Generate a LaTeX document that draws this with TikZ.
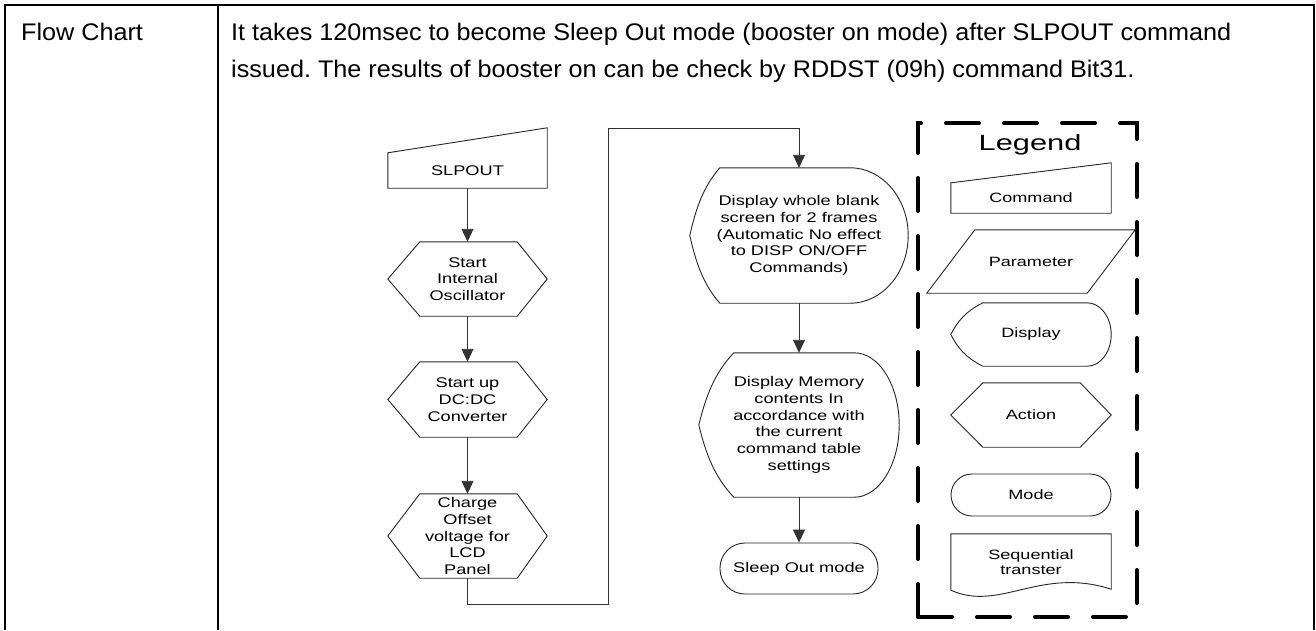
\documentclass[tikz,border=0pt]{standalone}
\usepackage{fontspec}
\setmainfont{Liberation Sans}
\newfontfamily\headfont[FakeStretch=1.05]{Liberation Sans}
\newfontfamily\flowfont[FakeStretch=1.3]{Liberation Sans}
\newfontfamily\legfont[FakeStretch=1.34]{Liberation Sans}
\newfontfamily\legtitlefont[FakeStretch=1.4]{Liberation Sans}
\usetikzlibrary{arrows.meta}
\frenchspacing

% outline macros drawn around named (invisible) nodes
\newcommand\drawhexa[3]{\draw[outl] ([xshift=#2pt]#1.north west) -- ([xshift=-#3pt]#1.north east) -- (#1.east) -- ([xshift=-#3pt]#1.south east) -- ([xshift=#2pt]#1.south west) -- (#1.west) -- cycle;}
\newcommand\drawcmdshape[2]{\draw[outl] (#1.south west) -- (#1.north west) -- ([yshift=#2pt]#1.north east) -- (#1.south east) -- cycle;}
\newcommand\drawparam[2]{\draw[outl] ([xshift=#2pt]#1.north west) -- ([xshift=#2pt]#1.north east) -- ([xshift=-#2pt]#1.south east) -- ([xshift=-#2pt]#1.south west) -- cycle;}
% #1 node, #2 left inset, #3 right inset, #4 half height
\newcommand\drawdisp[4]{\draw[outl] ([xshift=#2pt]#1.north west) -- ([xshift=-#3pt]#1.north east)
  .. controls ([xshift={-0.448*#3pt}]#1.north east) and ([yshift={0.552*#4pt}]#1.east) .. (#1.east)
  .. controls ([yshift={-0.552*#4pt}]#1.east) and ([xshift={-0.448*#3pt}]#1.south east) .. ([xshift=-#3pt]#1.south east)
  -- ([xshift=#2pt]#1.south west)
  .. controls ([xshift={0.45*#2pt},yshift={0.28*#4pt}]#1.south west) and ([xshift={0.2*#2pt},yshift={-0.4*#4pt}]#1.west) .. (#1.west)
  .. controls ([xshift={0.2*#2pt},yshift={0.4*#4pt}]#1.west) and ([xshift={0.45*#2pt},yshift={-0.28*#4pt}]#1.north west) .. cycle;}
\newcommand\drawdoc[1]{\draw[outl] (#1.south west) -- (#1.north west) -- (#1.north east) -- ([yshift=1pt]#1.south east) .. controls ([xshift=-71pt,yshift=24pt]#1.south east) and ([xshift=49pt,yshift=-22pt]#1.south west) .. (#1.south west);}

\begin{document}
\begin{tikzpicture}[x=1pt,y=-1pt,
  tbl/.style={line width=2pt, draw=black},
  hdtext/.style={anchor=base west, inner sep=0pt, font=\headfont\fontsize{24}{29}\selectfont},
  fbox/.style={inner sep=0pt, align=center, font=\flowfont\fontsize{14}{16.7}\selectfont},
  lbox/.style={inner sep=0pt, align=center, minimum width=160pt, font=\legfont\fontsize{13.5}{15.5}\selectfont},
  outl/.style={draw=black!85, line width=0.9pt},
  arr/.style={draw=black!80, line width=0.9pt, -{Triangle[length=13pt,width=12pt]}},
  legendline/.style={draw=black, line width=4pt, dash pattern=on 33pt off 25pt, line cap=round}
]
\useasboundingbox (0,0) rectangle (1316,630);

% table frame
\draw[tbl] (5,630) -- (5,5) -- (1314,5) -- (1314,630);
\draw[tbl] (218,5) -- (218,630);

% header texts
\node[hdtext] (lab) at (21,40) {Flow Chart};
\node[hdtext] (hdA) at (231,40) {It takes 120msec to become Sleep Out mode (booster on mode) after SLPOUT command};
\node[hdtext] (hdB) at (231,77) {issued. The results of booster on can be check by RDDST (09h) command Bit31.};

% left column of flowchart
\node[fbox, minimum width=159pt, minimum height=35pt] (slp) at (467.5,170.5) {SLPOUT};
\drawcmdshape{slp}{25}
\node[fbox, minimum width=159pt, minimum height=74pt] (hex1) at (467.5,279) {Start\\Internal\\Oscillator};
\drawhexa{hex1}{32}{30}
\node[fbox, minimum width=159pt, minimum height=75pt] (hex2) at (467.5,399.5) {Start up\\DC:DC\\Converter};
\drawhexa{hex2}{32}{30}
\node[fbox, minimum width=159pt, minimum height=84pt] (hex3) at (467.5,536) {Charge\\Offset\\voltage for\\LCD\\Panel};
\drawhexa{hex3}{32}{30}

% right column
\node[fbox, minimum width=218pt, minimum height=135pt] (disp1) at (799,235.5) {Display whole blank\\screen for 2 frames\\(Automatic No effect\\to DISP ON/OFF\\Commands)};
\drawdisp{disp1}{30}{58}{67.5}
\node[fbox, minimum width=200pt, minimum height=144pt] (disp2) at (799,425) {Display Memory\\contents In\\accordance with\\the current\\command table\\settings};
\drawdisp{disp2}{35}{45}{72}
\node[fbox, outl, rounded corners=25pt, minimum width=158pt, minimum height=51pt] (sleep) at (799,568.5) {Sleep Out mode};

% connectors
\coordinate (b1) at (608,604);
\coordinate (b2) at (608,128);
\draw[arr] (slp.south) -- (hex1.north);
\draw[arr] (hex1.south) -- (hex2.north);
\draw[arr] (hex2.south) -- (hex3.north);
\draw[arr] (hex3.south) |- (b1) -- (b2) -| (disp1.north);
\draw[arr] (disp1.south) -- (disp2.north);
\draw[arr] (disp2.south) -- (sleep.north);

% legend
\draw[legendline] (918,617) -- (918,123) -- (1137,123) -- (1137,617) -- cycle;
\node[inner sep=0pt, font=\legtitlefont\fontsize{22}{26}\selectfont] (legtitle) at (1030,145) {Legend};
\node[lbox, minimum height=30pt] (cmdL) at (1031,198) {Command};
\drawcmdshape{cmdL}{20}
\node[lbox, minimum height=63pt] (parL) at (1031,261.5) {Parameter};
\drawparam{parL}{24}
\node[lbox, minimum height=63pt] (dispL) at (1031,334.5) {Display};
\drawdisp{dispL}{32}{24}{31.5}
\node[lbox, minimum height=64pt] (actL) at (1031,415) {Action};
\drawhexa{actL}{32}{31}
\node[lbox, outl, rounded corners=21pt, minimum height=42pt] (modeL) at (1031,495) {Mode};
\node[lbox, minimum height=56pt] (seqL) at (1031,562) {Sequential\\transter};
\drawdoc{seqL}
\end{tikzpicture}
\end{document}
